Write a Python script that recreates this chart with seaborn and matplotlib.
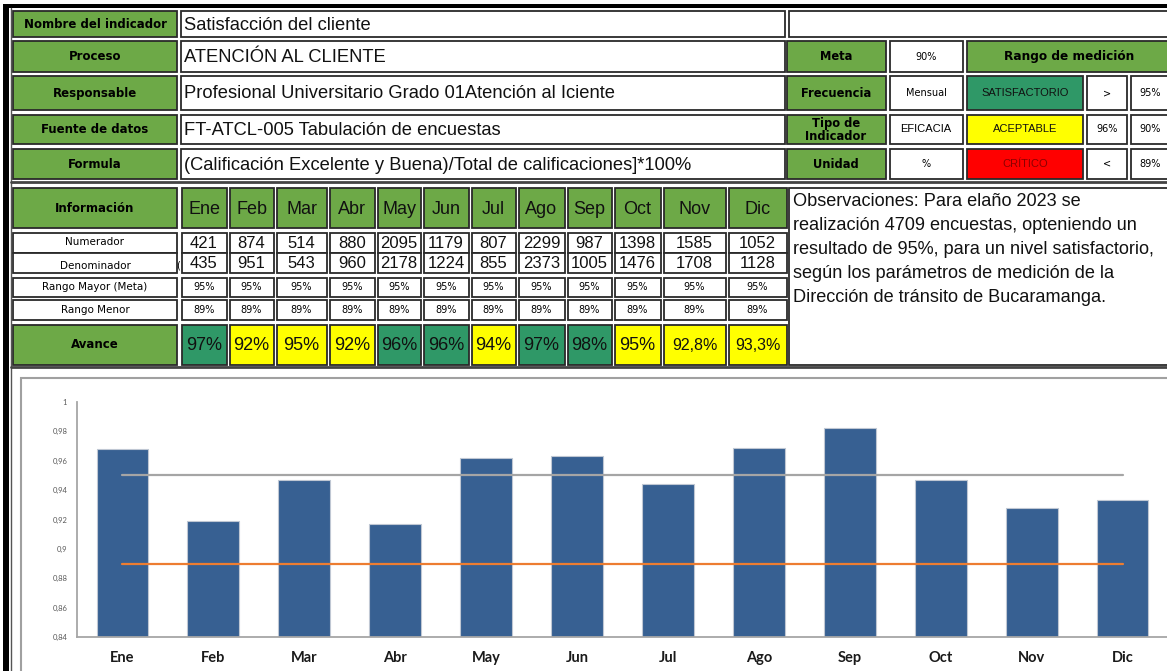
import numpy as np
import pandas as pd
import matplotlib
matplotlib.use("Agg")
import matplotlib.pyplot as plt
from matplotlib.patches import Rectangle
import seaborn as sns

# ---------------- data ----------------
months = ['Ene', 'Feb', 'Mar', 'Abr', 'May', 'Jun', 'Jul', 'Ago', 'Sep', 'Oct', 'Nov', 'Dic']
numerador = [421, 874, 514, 880, 2095, 1179, 807, 2299, 987, 1398, 1585, 1052]
denominador = [435, 951, 543, 960, 2178, 1224, 855, 2373, 1005, 1476, 1708, 1128]
rango_mayor = ['95%', '95%', '95%', '95%', '95%', '95%', '95%', '95%', '95%', '95%', '95%', '95%']
rango_menor = ['89%', '89%', '89%', '89%', '89%', '89%', '89%', '89%', '89%', '89%', '89%', '89%']
avance_labels = ['97%', '92%', '95%', '92%', '96%', '96%', '94%', '97%', '98%', '95%', '92,8%', '93,3%']
avance_status = ['S', 'A', 'A', 'A', 'S', 'S', 'A', 'S', 'S', 'A', 'A', 'A']
avance_values = [0.968, 0.919, 0.947, 0.917, 0.962, 0.963, 0.944, 0.969, 0.982, 0.947, 0.928, 0.933]
meta_line = [0.95, 0.95, 0.95, 0.95, 0.95, 0.95, 0.95, 0.95, 0.95, 0.95, 0.95, 0.95]
menor_line = [0.89, 0.89, 0.89, 0.89, 0.89, 0.89, 0.89, 0.89, 0.89, 0.89, 0.89, 0.89]
y_ticks = [0.84, 0.86, 0.88, 0.90, 0.92, 0.94, 0.96, 0.98, 1.0]
y_tick_labels = ['0,84', '0,86', '0,88', '0,9', '0,92', '0,94', '0,96', '0,98', '1']

info_labels = ['Nombre del indicador', 'Proceso', 'Responsable', 'Fuente de datos', 'Formula']
info_values = ['Satisfacción del cliente', 'ATENCIÓN AL CLIENTE',
               'Profesional Universitario Grado 01Atención al Iciente',
               'FT-ATCL-005 Tabulación de encuestas',
               '(Calificación Excelente y Buena)/Total de calificaciones]*100%']
side_labels = ['Meta', 'Frecuencia', 'Tipo de\nIndicador', 'Unidad']
side_values = ['90%', 'Mensual', 'EFICACIA', '%']
rango_names = ['SATISFACTORIO', 'ACEPTABLE', 'CRÍTICO']
rango_ops = ['>', '96%', '<']
rango_lim = ['95%', '90%', '89%']
observaciones = ['Observaciones: Para elaño 2023 se',
                 'realización 4709 encuestas, opteniendo un',
                 'resultado de 95%, para un nivel satisfactorio,',
                 'según los parámetros de medición de la',
                 'Dirección de tránsito de Bucaramanga.']

# ---------------- style ----------------
sns.set_theme(style='white')
plt.rcParams['font.family'] = ['Liberation Sans', 'DejaVu Sans']

GREEN = '#6DA947'
TEAL = '#2F9867'
YELLOW = '#FFFF00'
RED = '#FF0000'
EDGE = '#2a2a2a'
BAR = '#376092'

fig = plt.figure(figsize=(11.67, 6.71), dpi=100)
bg = fig.add_axes([0, 0, 1, 1])
bg.set_xlim(0, 1167)
bg.set_ylim(671, 0)
bg.axis('off')


def cell(x0, y0, x1, y1, fc='white', ec=EDGE, lw=1.3):
    bg.add_patch(Rectangle((x0, y0), x1 - x0, y1 - y0, facecolor=fc, edgecolor=ec, lw=lw, zorder=2))


def lbl(x, y, s, size=8.5, bold=True, ha='center', family='DejaVu Sans', color='black', **kw):
    bg.text(x, y, s, ha=ha, va='center', fontsize=size, fontweight='bold' if bold else 'normal',
            family=family, color=color, zorder=5, **kw)


# outer borders
bg.add_patch(Rectangle((3, 5), 6, 680, facecolor='black', edgecolor='none', zorder=3))
bg.add_patch(Rectangle((3, 4), 1170, 4, facecolor='black', edgecolor='none', zorder=3))
bg.plot([11, 11], [8, 671], color='#555555', lw=1.0, zorder=3)
bg.plot([11, 1167], [182, 182], color='#444444', lw=2.0, zorder=3)
bg.plot([11, 1167], [367, 367], color='#444444', lw=2.0, zorder=3)

# ---------- top section ----------
rows = [(11, 37), (41, 72), (76, 110), (115, 144), (149, 179)]
for (y0, y1), name, val in zip(rows, info_labels, info_values):
    cell(13, y0, 177, y1, fc=GREEN)
    lbl(95, (y0 + y1) / 2, name)
    cell(181, y0, 785, y1)
    lbl(184, (y0 + y1) / 2 + 1, val, size=13.2, bold=False, ha='left', family='Liberation Sans', color='#111111')

cell(789, 11, 1175, 37)
for (y0, y1), name, val in zip(rows[1:], side_labels, side_values):
    cell(787, y0, 886, y1, fc=GREEN)
    lbl(836, (y0 + y1) / 2 + 0.5, name, size=8.3, linespacing=1.05)
    cell(890, y0, 963, y1)
    if val == 'EFICACIA':
        lbl(926, (y0 + y1) / 2, val, size=8, bold=False, family='Liberation Sans')
    else:
        lbl(926, (y0 + y1) / 2, val, size=7, bold=False)

y0, y1 = rows[1]
cell(967, y0, 1175, y1, fc=GREEN)
lbl(1069, (y0 + y1) / 2, 'Rango de medición', size=8.7)
fills = [TEAL, YELLOW, RED]
tcolors = ['#111111', '#111111', '#8B0000']
for (y0, y1), name, op, lim, fc, tc in zip(rows[2:], rango_names, rango_ops, rango_lim, fills, tcolors):
    cell(967, y0, 1083, y1, fc=fc)
    lbl(1025, (y0 + y1) / 2, name, size=8, bold=False, family='Liberation Sans', color=tc)
    cell(1087, y0, 1127, y1)
    lbl(1107, (y0 + y1) / 2, op, size=7, bold=False)
    cell(1131, y0, 1175, y1)
    lbl(1150, (y0 + y1) / 2, lim, size=7, bold=False)

# ---------- second section ----------
col_edges = [180, 228, 275, 328, 376, 422, 470, 517, 566, 613, 662, 727, 788]
cell(13, 188, 177, 228, fc=GREEN)
lbl(95, 208, 'Información')
cell(13, 233, 177, 253)
lbl(95, 242, 'Numerador', size=7.5, bold=False)
cell(13, 253, 177, 273)
lbl(95, 266, 'Denominador', size=7.5, bold=False)
lbl(178, 265, '(', size=7, bold=False)
cell(13, 278, 177, 297)
lbl(95, 287, 'Rango Mayor (Meta)', size=7.5, bold=False)
cell(13, 300, 177, 320)
lbl(95, 310, 'Rango Menor', size=7.5, bold=False)
cell(13, 325, 177, 365, fc=GREEN)
lbl(95, 344, 'Avance')

for i, m in enumerate(months):
    x0, x1 = col_edges[i] + 1.5, col_edges[i + 1] - 1.5
    xc = (x0 + x1) / 2
    cell(x0, 188, x1, 228, fc=GREEN)
    lbl(xc, 209, m, size=13, bold=False, family='Liberation Sans', color='#111111')
    cell(x0, 233, x1, 253)
    lbl(xc, 243, str(numerador[i]), size=12, bold=False, family='Liberation Sans', color='#111111')
    cell(x0, 253, x1, 273)
    lbl(xc, 263, str(denominador[i]), size=12, bold=False, family='Liberation Sans', color='#111111')
    cell(x0, 278, x1, 297)
    lbl(xc, 287.5, rango_mayor[i], size=7, bold=False)
    cell(x0, 300, x1, 320)
    lbl(xc, 310, rango_menor[i], size=7, bold=False)
    fc = TEAL if avance_status[i] == 'S' else YELLOW
    cell(x0, 325, x1, 365, fc=fc)
    lbl(xc, 345, avance_labels[i], size=13 if len(avance_labels[i]) <= 3 else 11.5, bold=False,
        family='Liberation Sans', color='#111111')

cell(789, 188, 1175, 365)
for k, line in enumerate(observaciones):
    lbl(793, 201 + k * 24, line, size=13.1, bold=False, ha='left', family='Liberation Sans', color='#111111')

# ---------- chart section ----------
bg.add_patch(Rectangle((21, 378), 1170, 320, facecolor='white', edgecolor='#A0A0A0', lw=1.5, zorder=1))

ax = fig.add_axes([77 / 1167, 34 / 671, 1091 / 1167, 235 / 671])
ax.set_facecolor('none')
df = pd.DataFrame({'Mes': months, 'Avance': avance_values})
sns.barplot(data=df, x='Mes', y='Avance', color=BAR, saturation=1, width=0.57,
            edgecolor='#BFC7D3', linewidth=0.8, ax=ax, zorder=2)
x_pos = np.arange(len(months))
ax.plot(x_pos, meta_line, color='#A5A5A5', lw=1.6, zorder=3)
ax.plot(x_pos, menor_line, color='#ED7D31', lw=1.6, zorder=3)

ax.set_xlim(-0.5, 11.5)
ax.set_ylim(0.84, 1.0)
ax.set_yticks(y_ticks)
ax.set_yticklabels(y_tick_labels, fontsize=5.5, color='#595959', family='Lato')
ax.set_xticks(x_pos)
ax.set_xticklabels(months, fontsize=10.5, fontweight='bold', color='#1a1a1a', family='Lato')
ax.tick_params(axis='y', length=0, pad=7)
ax.tick_params(axis='x', length=0, pad=10)
ax.set_xlabel('')
ax.set_ylabel('')
for s in ['top', 'right']:
    ax.spines[s].set_visible(False)
for s in ['left', 'bottom']:
    ax.spines[s].set_color('#A6A6A6')
    ax.spines[s].set_linewidth(1.3)

fig.savefig('out.png', dpi=100, facecolor='white')
